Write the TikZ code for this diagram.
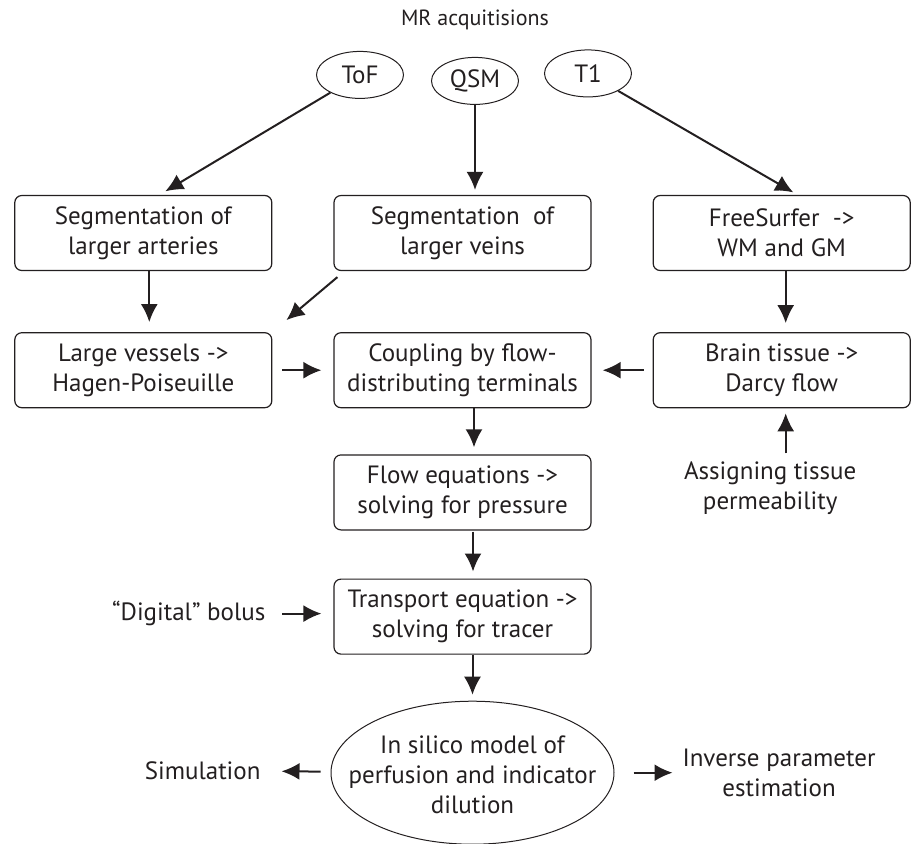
\documentclass[tikz,border=0pt]{standalone}
\usepackage{fontspec}
\setmainfont{PT Sans}
\usetikzlibrary{positioning, shapes.geometric, arrows.meta}
\definecolor{ink}{HTML}{231F20}

\begin{document}
\begin{tikzpicture}[x=0.5pt, y=-0.5pt, node distance=30.5pt, ink, line width=1pt,
        -{Latex[length=9pt, width=8.5pt]}, font=\fontsize{12.5}{15}\selectfont,
        box/.style={draw, rounded corners=3.5pt, line width=0.6pt, minimum width=128.5pt, minimum height=37.5pt, inner sep=0pt, align=center},
        scan/.style={draw, ellipse, line width=0.5pt, minimum width=43.5pt, minimum height=23.5pt, inner sep=0pt},
        note/.style={inner sep=0pt, align=center}]
        \useasboundingbox (0,0) rectangle (911,843);

        \node[box] (vein) at (462.5,233) {Segmentation\ \ of\\larger veins};
        \node[box] (art) [left=of vein] {Segmentation of\\larger arteries};
        \node[box] (fs) [right=of vein] {FreeSurfer\ \ ->\\WM and GM};
        \node[box] (large) [below=of art] {Large vessels ->\\Hagen-Poiseuille};
        \node[box] (coup) [below=of vein] {Coupling by flow-\\distributing terminals};
        \node[box] (brain) [below=of fs] {Brain tissue ->\\Darcy flow};
        \node[box] (flow) [below=23pt of coup] {Flow equations ->\\solving for pressure};
        \node[box] (trans) [below=24pt of flow] {Transport equation ->\\solving for tracer};
        \node[draw, ellipse, line width=0.5pt, minimum width=141.5pt, minimum height=71.5pt, inner sep=0pt,
            label={[note, yshift=-1pt]center:In silico model of\\perfusion and indicator\\dilution}] (model) [below=23pt of trans, xshift=5pt] {};

        \node[scan] (qsm) [above=45pt of vein, xshift=6.25pt] {QSM};
        \node[scan] (tof) [left=13.5pt of qsm, yshift=3pt] {ToF};
        \node[scan] (t1) [right=12.5pt of qsm, yshift=3.75pt] {T1};
        \node[note, font=\fontsize{11}{14}\selectfont] (mr) [above=13pt of qsm] {MR acquitisions};

        \node[note] (perm) [below=26pt of brain, xshift=-5.75pt] {Assigning tissue\\permeability};
        \node[note] (bolus) [left=33.5pt of trans, yshift=1.5pt] {“Digital” bolus};
        \node[note] (sim) [left=34.5pt of model, yshift=1pt] {Simulation};
        \node[note] (inv) [right=33.5pt of model] {Inverse parameter\\estimation};

        \path (tof) edge[shorten >=3.5pt] ([xshift=8pt]art.north);
        \path (qsm) edge[shorten >=2.5pt] (qsm |- vein.north);
        \path (t1) edge[shorten >=2.5pt] ([xshift=8pt]fs.north);

        \path ([xshift=3pt]art.south) edge[shorten >=5pt] ([xshift=3pt]large.north);
        \path ([xshift=2pt, yshift=-3pt]vein.south west) edge ([xshift=7pt, yshift=6pt]large.north east);
        \path ([xshift=2pt]fs.south) edge[shorten >=4.5pt] ([xshift=2pt]brain.north);

        \path (large) edge[shorten <=5pt, shorten >=6pt] (coup);
        \path (brain) edge[shorten <=4.5pt, shorten >=5.5pt] (coup);
        \path ([xshift=5.75pt]coup.south) edge[shorten >=3.5pt] ([xshift=5.75pt]flow.north);
        \path ([xshift=5.25pt]flow.south) edge[shorten <=0.5pt, shorten >=3.5pt] ([xshift=5.25pt]trans.north);
        \path ([xshift=5pt]trans.south) edge[shorten >=3pt] (model);

        \path ([xshift=2pt]brain.south |- perm.north) edge[shorten <=3.5pt, shorten >=2.5pt] ([xshift=2pt]brain.south);
        \path (bolus.east) edge[shorten <=8pt, shorten >=6pt] (bolus.east -| trans.west);
        \path (model) edge[shorten <=5pt, shorten >=10pt] (sim);
        \path (model) edge[shorten <=9.5pt, shorten >=4.5pt] (inv);
    \end{tikzpicture}
\end{document}
